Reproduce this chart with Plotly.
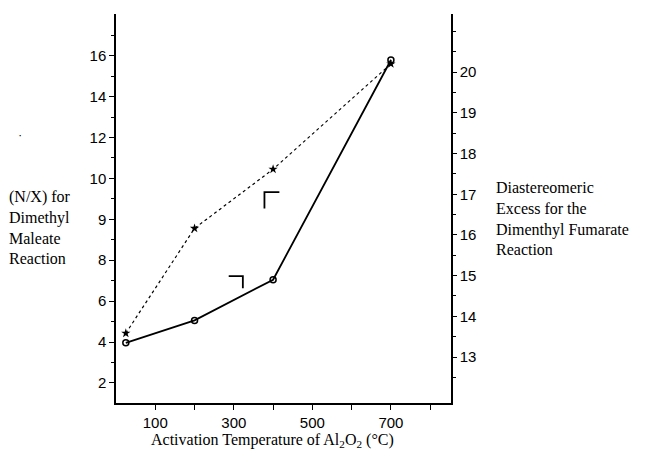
import plotly.graph_objects as go

# ---- data ----
temps = [25, 200, 400, 700]                      # activation temperature (°C)
nx_maleate = [4.43, 9.56, 12.45, 17.6]           # left axis (position units of the printed scale)
de_fumarate = [13.35, 13.9, 14.9, 20.3]          # right axis

left_tick_pos = [2, 4, 6, 8, 10, 12, 14, 16, 18]
left_tick_text = ["2", "4", "6", "8", "9", "10", "12", "14", "16"]
left_minor = [3, 5, 7, 9, 11, 13, 15, 17, 19]
right_ticks = [13, 14, 15, 16, 17, 18, 19, 20]
right_minor = [12.5, 13.5, 14.5, 15.5, 16.5, 17.5, 18.5, 19.5, 20.5, 21]
x_tick_vals = [100, 200, 300, 400, 500, 600, 700, 800]
x_tick_text = ["100", "", "300", "", "500", "", "700", ""]

# axis-pointer marks (decorations) : (x, y on right axis)
mark_solid = (307, 14.84)
mark_dotted = (396, 16.85)

tick_font = dict(family="Liberation Sans, Arial, sans-serif", size=15, color="black")
serif = "Liberation Serif, Times New Roman, serif"

fig = go.Figure()
fig.add_trace(go.Scatter(
    x=temps, y=nx_maleate, mode="lines+markers",
    line=dict(color="black", width=1.2, dash="dot"),
    marker=dict(symbol="star", size=7, color="black"),
    yaxis="y", showlegend=False))
fig.add_trace(go.Scatter(
    x=temps, y=de_fumarate, mode="lines+markers",
    line=dict(color="black", width=1.8),
    marker=dict(symbol="circle-open", size=6, color="black", line=dict(width=1.5)),
    yaxis="y2", showlegend=False))

fig.update_layout(
    width=650, height=451,
    margin=dict(l=116, r=199, t=14, b=48),
    paper_bgcolor="white", plot_bgcolor="white",
    xaxis=dict(range=[0, 853], showline=True, linecolor="black", linewidth=1.5,
               showgrid=False, zeroline=False,
               tickmode="array", tickvals=x_tick_vals, ticktext=x_tick_text,
               ticks="outside", ticklen=5, tickcolor="black", tickwidth=1.3,
               tickfont=tick_font),
    yaxis=dict(range=[1.02, 20.04], showline=True, linecolor="black", linewidth=1.5,
               showgrid=False, zeroline=False,
               tickmode="array", tickvals=left_tick_pos, ticktext=left_tick_text,
               ticks="outside", ticklen=5, tickcolor="black", tickwidth=1.3,
               tickfont=tick_font,
               minor=dict(tickmode="array", tickvals=left_minor, ticks="outside",
                          ticklen=3, tickcolor="black", tickwidth=1, showgrid=False)),
    yaxis2=dict(range=[11.87, 21.43], overlaying="y", side="right", anchor="x",
                showline=True, linecolor="black", linewidth=1.5,
                showgrid=False, zeroline=False,
                tickmode="array", tickvals=right_ticks,
                ticks="outside", ticklen=4, tickcolor="black", tickwidth=1.3,
                tickfont=tick_font,
                minor=dict(tickmode="array", tickvals=right_minor, ticks="outside",
                           ticklen=3, tickcolor="black", tickwidth=1, showgrid=False)),
)

# x-axis title
fig.add_annotation(text="Activation Temperature of Al<sub>2</sub>O<sub>2</sub> (°C)",
                   xref="paper", yref="paper", x=0.466, y=-0.097,
                   xanchor="center", yanchor="middle", showarrow=False,
                   font=dict(family=serif, size=16, color="black"))
fig.add_annotation(text="(N/X) for<br>Dimethyl<br>Maleate<br>Reaction",
                   xref="paper", yref="paper", x=-0.325, y=0.452,
                   xanchor="left", yanchor="middle", align="left", showarrow=False,
                   font=dict(family=serif, size=16, color="black"))
fig.add_annotation(text="Diastereomeric<br>Excess for the<br>Dimenthyl Fumarate<br>Reaction",
                   xref="paper", yref="paper", x=1.128, y=0.474,
                   xanchor="left", yanchor="middle", align="left", showarrow=False,
                   font=dict(family=serif, size=16, color="black"))
# small speck present in the scanned figure
fig.add_annotation(text="•", xref="paper", yref="paper", x=-0.2955, y=0.702,
                   showarrow=False, font=dict(size=6, color="black"))

# L-shaped pointer marks
sx, sy = mark_solid
fig.add_shape(type="path", xref="x", yref="y2",
              path=f"M {sx-20},{sy+0.15} L {sx+16},{sy+0.15} L {sx+16},{sy-0.15}",
              line=dict(color="black", width=1.8))
dx, dy = mark_dotted
fig.add_shape(type="path", xref="x", yref="y2",
              path=f"M {dx-18},{dy-0.2} L {dx-18},{dy+0.2} L {dx+20},{dy+0.2}",
              line=dict(color="black", width=1.8))

fig.write_html("out.html", config={"displayModeBar": False},
               post_script="document.body.style.margin='0';document.body.style.overflow='hidden';")
